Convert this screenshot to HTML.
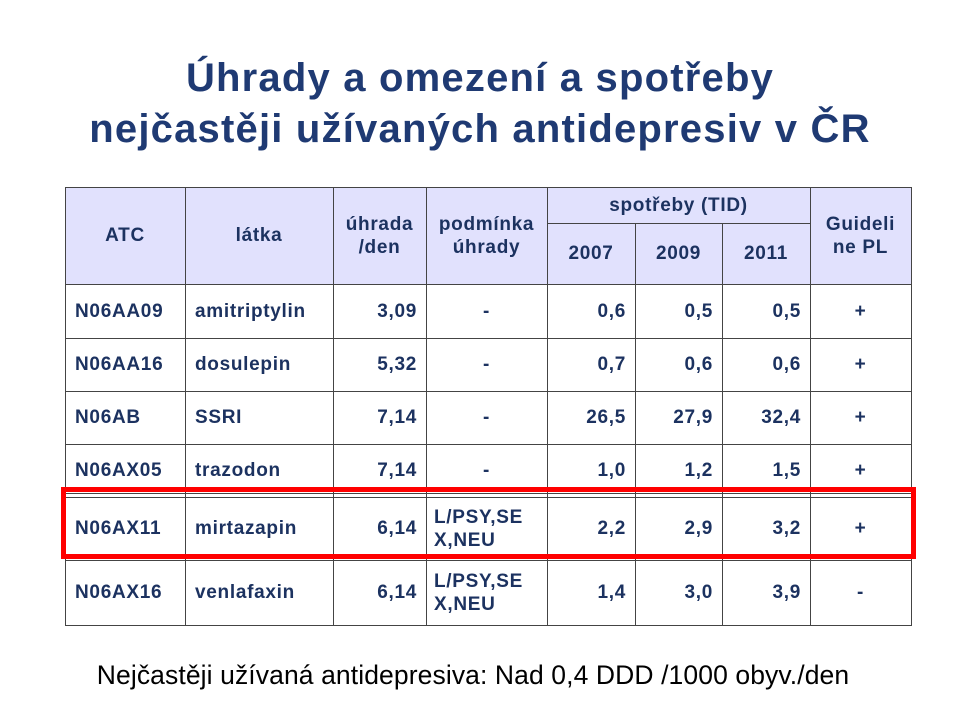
<!DOCTYPE html>
<html><head><meta charset="utf-8"><style>
body{margin:0;width:960px;height:720px;background:#fff;position:relative;overflow:hidden;font-family:"Liberation Sans",sans-serif}
.t{position:absolute;left:0;width:960px;text-align:center;color:#1f3a73;font-weight:bold;font-size:40px;letter-spacing:1.2px;white-space:nowrap}
.c{position:absolute;box-sizing:border-box;display:flex;align-items:center;font-weight:bold;font-size:19px;letter-spacing:0.7px;color:#1c3260;line-height:23px;white-space:nowrap}
.h{background:#e1e1fd;justify-content:center;text-align:center}
.l{position:absolute;background:#444}
</style></head><body>
<div class="t" style="top:56px">Úhrady a omezení a spotřeby</div>
<div class="t" style="top:107px">nejčastěji užívaných antidepresiv v ČR</div>
<div id="tb"></div>
<div style="position:absolute;left:61px;top:487px;width:855px;height:72px;box-sizing:border-box;border:5px solid #f00"></div>
<div style="position:absolute;left:-7px;width:960px;top:660px;text-align:center;font-size:26.5px;letter-spacing:0.1px;color:#000;white-space:nowrap">Nejčastěji užívaná antidepresiva: Nad 0,4 DDD /1000 obyv./den</div>
<script>
var X=[65,185,333,426,547,635,722,810,911];
var Y=[284,338,391,444,497,560,625];
var tb=document.getElementById('tb'),h='';
function cell(x1,x2,y1,y2,txt,cls,al,pad){h+='<div class="c '+cls+'" style="left:'+x1+'px;width:'+(x2-x1)+'px;top:'+y1+'px;height:'+(y2-y1)+'px;justify-content:'+al+';padding:0 '+pad+'px">'+txt+'</div>';}
cell(X[0],X[8],187,284,'','h','center',0);
var hd=['ATC','látka','úhrada<br>/den','podmínka<br>úhrady'];
for(var i=0;i<4;i++)cell(X[i],X[i+1],187,284,hd[i],'h','center',0);
cell(X[4],X[7],187,223,'spotřeby (TID)','h','center',0);
['2007','2009','2011'].forEach(function(s,i){cell(X[4+i],X[5+i],223,284,s,'h','center',0);});
cell(X[7],X[8],187,284,'Guideli<br>ne PL','h','center',0);
var D=[['N06AA09','amitriptylin','3,09','-','0,6','0,5','0,5','+'],
['N06AA16','dosulepin','5,32','-','0,7','0,6','0,6','+'],
['N06AB','SSRI','7,14','-','26,5','27,9','32,4','+'],
['N06AX05','trazodon','7,14','-','1,0','1,2','1,5','+'],
['N06AX11','mirtazapin','6,14','L/PSY,SE<br>X,NEU','2,2','2,9','3,2','+'],
['N06AX16','venlafaxin','6,14','L/PSY,SE<br>X,NEU','1,4','3,0','3,9','-']];
D.forEach(function(r,j){r.forEach(function(s,i){
var al=(i<2)?'flex-start':(i==2||(i>=4&&i<=6))?'flex-end':'center';
var pad=(i<2)?10:(i==2||(i>=4&&i<=6))?9:0;
if(i==3&&s!='-'){al='flex-start';pad=8;}
cell(X[i],X[i+1],Y[j],Y[j+1],s,'',al,pad);});});
function hl(x1,x2,y){h+='<div class="l" style="left:'+x1+'px;top:'+y+'px;width:'+(x2-x1+1)+'px;height:1px"></div>';}
function vl(x,y1,y2){h+='<div class="l" style="left:'+x+'px;top:'+y1+'px;width:1px;height:'+(y2-y1)+'px"></div>';}
hl(X[0],X[8],187);Y.forEach(function(y){hl(X[0],X[8],y);});hl(X[4],X[7],223);hl(X[0],X[8],493);
X.forEach(function(x,i){if(i==5||i==6)vl(x,223,625);else vl(x,187,625);});
tb.innerHTML=h;
</script>
</body></html>
